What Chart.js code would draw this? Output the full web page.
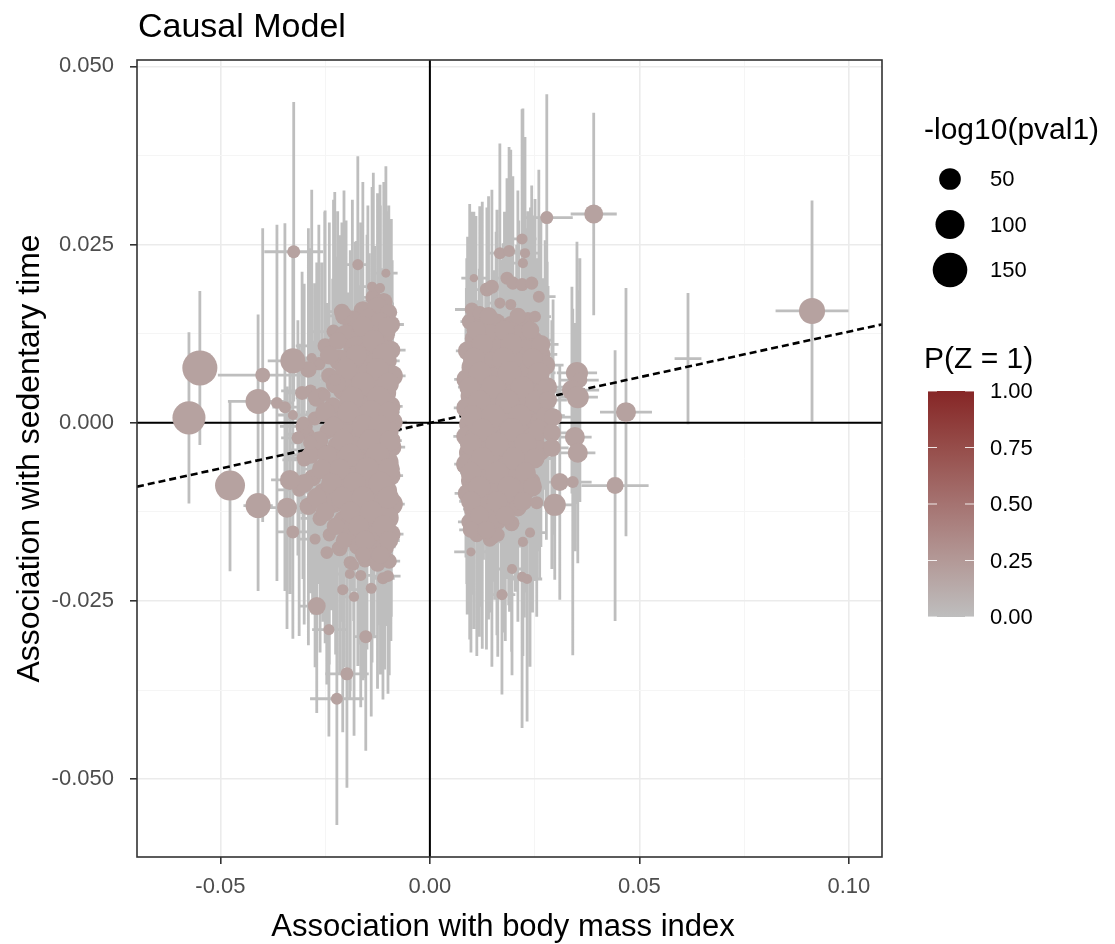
<!DOCTYPE html>
<html><head><meta charset="utf-8">
<script src="https://cdn.jsdelivr.net/npm/chart.js@4.4.1/dist/chart.umd.min.js"></script>
<style>html,body{margin:0;padding:0;background:#fff;}canvas{display:block;}</style>
</head><body>
<canvas id="c" width="1115" height="944"></canvas>
<script>
// ---------- texts & axes ----------
const chartTitle = "Causal Model";
const xAxisTitle = "Association with body mass index";
const yAxisTitle = "Association with sedentary time";
const xRange = [-0.0699, 0.1079];
const yRange = [-0.0609, 0.0509];
const xMajorTicks = [-0.05, 0, 0.05, 0.10];
const xTickLabels = ["-0.05", "0.00", "0.05", "0.10"];
const xMinorTicks = [-0.025, 0.025, 0.075];
const yMajorTicks = [-0.05, -0.025, 0, 0.025, 0.05];
const yTickLabels = ["-0.050", "-0.025", "0.000", "0.025", "0.050"];
const yMinorTicks = [-0.0375, -0.0125, 0.0125, 0.0375];
const causalSlope = 0.128;   // dashed line through origin
const sizeLegendTitle = "-log10(pval1)";
const sizeLegendValues = [50, 100, 150];
const colourLegendTitle = "P(Z = 1)";
const colourLegendValues = [0, 0.25, 0.5, 0.75, 1];
const colourLegendLabels = ["0.00", "0.25", "0.50", "0.75", "1.00"];
const colourStops = ["#BEBEBE", "#B39997", "#A57371", "#964D4A", "#862626"];

// ---------- variants: [bmi beta, sedentary beta, bmi CI half-width, sed CI half-width, -log10(pval1), P(Z=1)] ----------
const leftCluster = [
[-0.0135,0.0176,0.0025,0.0175,22,0.19],[-0.0110,0.0170,0.0020,0.0168,29,0.19],
[-0.0160,0.0158,0.0030,0.0180,32,0.19],[-0.0125,0.0162,0.0022,0.0160,42,0.19],[-0.0098,0.0155,0.0018,0.0150,26,0.19],
[-0.0185,0.0143,0.0035,0.0170,45,0.19],[-0.0148,0.0147,0.0028,0.0158,35,0.19],[-0.0118,0.0140,0.0020,0.0165,48,0.19],[-0.0092,0.0138,0.0030,0.0148,29,0.19],
[-0.0230,0.0128,0.0060,0.0185,16,0.19],[-0.0200,0.0122,0.0032,0.0162,54,0.19],[-0.0165,0.0126,0.0030,0.0155,38,0.19],[-0.0135,0.0120,0.0025,0.0170,61,0.19],[-0.0105,0.0124,0.0022,0.0158,32,0.19],
[-0.0250,0.0108,0.0070,0.0190,20,0.19],[-0.0178,0.0104,0.0030,0.0150,64,0.19],[-0.0150,0.0100,0.0028,0.0164,42,0.19],[-0.0120,0.0106,0.0024,0.0172,51,0.19],[-0.0093,0.0102,0.0035,0.0156,35,0.19],
[-0.0265,0.0083,0.0075,0.0195,14,0.19],[-0.0215,0.0088,0.0036,0.0175,48,0.19],[-0.0190,0.0082,0.0032,0.0160,58,0.19],[-0.0160,0.0086,0.0026,0.0148,45,0.19],[-0.0132,0.0080,0.0024,0.0168,70,0.19],[-0.0102,0.0087,0.0030,0.0152,38,0.19],
[-0.0240,0.0066,0.0060,0.0180,24,0.19],[-0.0175,0.0064,0.0030,0.0158,51,0.19],[-0.0145,0.0068,0.0026,0.0170,64,0.19],[-0.0115,0.0062,0.0022,0.0155,42,0.19],[-0.0090,0.0066,0.0032,0.0162,48,0.19],
[-0.0285,0.0045,0.0070,0.0200,12,0.19],[-0.0258,0.0040,0.0042,0.0185,18,0.19],[-0.0205,0.0047,0.0034,0.0165,54,0.19],[-0.0168,0.0043,0.0028,0.0150,74,0.19],[-0.0138,0.0048,0.0024,0.0160,48,0.19],[-0.0108,0.0042,0.0026,0.0172,58,0.19],
[-0.0232,0.0024,0.0038,0.0178,28,0.19],[-0.0188,0.0027,0.0032,0.0160,64,0.19],[-0.0155,0.0021,0.0026,0.0152,54,0.19],[-0.0125,0.0026,0.0024,0.0166,77,0.19],[-0.0095,0.0023,0.0030,0.0158,45,0.19],
[-0.0275,0.0006,0.0066,0.0190,16,0.19],[-0.0210,0.0002,0.0036,0.0172,48,0.19],[-0.0172,0.0007,0.0030,0.0155,67,0.19],[-0.0142,0.0003,0.0026,0.0164,58,0.19],[-0.0112,0.0008,0.0022,0.0150,70,0.19],[-0.0089,0.0001,0.0034,0.0168,42,0.19],
[-0.0290,-0.0016,0.0050,0.0195,12,0.19],[-0.0245,-0.0012,0.0040,0.0180,22,0.19],[-0.0195,-0.0018,0.0032,0.0162,61,0.19],[-0.0160,-0.0013,0.0028,0.0154,51,0.19],[-0.0128,-0.0017,0.0024,0.0170,74,0.19],[-0.0100,-0.0011,0.0030,0.0158,48,0.19],
[-0.0268,-0.0038,0.0064,0.0188,18,0.19],[-0.0220,-0.0033,0.0036,0.0170,45,0.19],[-0.0180,-0.0036,0.0030,0.0152,70,0.19],[-0.0147,-0.0031,0.0026,0.0166,54,0.19],[-0.0117,-0.0037,0.0024,0.0156,64,0.19],[-0.0091,-0.0034,0.0032,0.0162,38,0.19],
[-0.0300,-0.0052,0.0052,0.0200,14,0.19],[-0.0238,-0.0057,0.0040,0.0176,24,0.19],[-0.0200,-0.0053,0.0034,0.0164,58,0.19],[-0.0165,-0.0058,0.0028,0.0150,64,0.19],[-0.0135,-0.0052,0.0026,0.0168,48,0.19],[-0.0105,-0.0056,0.0022,0.0158,74,0.19],
[-0.0280,-0.0077,0.0068,0.0192,28,0.19],[-0.0215,-0.0073,0.0036,0.0172,48,0.19],[-0.0185,-0.0078,0.0030,0.0156,61,0.19],[-0.0152,-0.0072,0.0028,0.0162,54,0.19],[-0.0122,-0.0076,0.0024,0.0154,67,0.19],[-0.0094,-0.0074,0.0030,0.0166,42,0.19],
[-0.0312,-0.0094,0.0054,0.0205,16,0.19],[-0.0255,-0.0097,0.0042,0.0182,32,0.19],[-0.0198,-0.0092,0.0034,0.0166,45,0.19],[-0.0168,-0.0098,0.0030,0.0158,64,0.19],[-0.0138,-0.0093,0.0026,0.0150,58,0.19],[-0.0108,-0.0096,0.0024,0.0170,70,0.19],
[-0.0290,-0.0117,0.0050,0.0195,30,0.19],[-0.0230,-0.0113,0.0040,0.0178,38,0.19],[-0.0182,-0.0118,0.0032,0.0160,54,0.19],[-0.0150,-0.0112,0.0028,0.0154,67,0.19],[-0.0120,-0.0116,0.0026,0.0168,48,0.19],[-0.0092,-0.0114,0.0032,0.0158,58,0.19],
[-0.0262,-0.0134,0.0046,0.0188,20,0.19],[-0.0205,-0.0137,0.0036,0.0170,45,0.19],[-0.0165,-0.0132,0.0030,0.0156,58,0.19],[-0.0133,-0.0138,0.0026,0.0164,51,0.19],[-0.0103,-0.0133,0.0024,0.0152,64,0.19],
[-0.0240,-0.0157,0.0042,0.0182,14,0.19],[-0.0190,-0.0152,0.0034,0.0166,42,0.19],[-0.0150,-0.0158,0.0028,0.0160,48,0.19],[-0.0118,-0.0154,0.0026,0.0170,54,0.19],[-0.0093,-0.0156,0.0030,0.0150,38,0.19],
[-0.0215,-0.0176,0.0038,0.0175,22,0.19],[-0.0172,-0.0173,0.0032,0.0168,29,0.19],[-0.0138,-0.0178,0.0028,0.0158,42,0.19],[-0.0108,-0.0174,0.0026,0.0172,35,0.19],
[-0.0190,-0.0196,0.0034,0.0180,14,0.19],[-0.0155,-0.0193,0.0030,0.0165,16,0.19],[-0.0125,-0.0198,0.0028,0.0175,22,0.19],[-0.0097,-0.0194,0.0026,0.0160,20,0.19],
[-0.0165,-0.0214,0.0030,0.0185,8,0.19],[-0.0112,-0.0218,0.0028,0.0170,10,0.19],[-0.0140,-0.0232,0.0030,0.0180,8,0.19],
[-0.0274,-0.0163,0.0040,0.0180,8,0.19],[-0.0246,-0.0182,0.0038,0.0185,12,0.19],[-0.0222,-0.0175,0.0036,0.0170,6,0.19],[-0.0181,-0.0200,0.0032,0.0190,6,0.19],
[-0.0191,-0.0212,0.0034,0.0175,6,0.19],[-0.0100,-0.0215,0.0030,0.0165,10,0.19],[-0.0208,-0.0234,0.0036,0.0200,8,0.19],[-0.0181,-0.0244,0.0032,0.0195,6,0.19]
];
const leftClusterInner = [
[-0.0205,0.0150,0.0036,0.0176,30,0.19],[-0.0100,0.0135,0.0022,0.0162,40,0.19],[-0.0160,0.0135,0.0028,0.0170,45,0.19],
[-0.0220,0.0115,0.0040,0.0182,30,0.19],[-0.0135,0.0115,0.0026,0.0158,50,0.19],[-0.0240,0.0095,0.0046,0.0186,35,0.19],
[-0.0110,0.0095,0.0024,0.0166,55,0.19],[-0.0175,0.0095,0.0030,0.0160,45,0.19],[-0.0200,0.0075,0.0034,0.0170,50,0.19],
[-0.0125,0.0075,0.0024,0.0156,55,0.19],[-0.0290,0.0075,0.0056,0.0198,25,0.19],[-0.0225,0.0055,0.0040,0.0178,40,0.19],
[-0.0160,0.0055,0.0028,0.0160,60,0.19],[-0.0100,0.0055,0.0024,0.0168,50,0.19],[-0.0270,0.0035,0.0050,0.0190,30,0.19],
[-0.0185,0.0035,0.0032,0.0164,55,0.19],[-0.0122,0.0035,0.0024,0.0154,60,0.19],[-0.0250,0.0015,0.0046,0.0184,40,0.19],
[-0.0195,0.0015,0.0034,0.0168,50,0.19],[-0.0140,0.0015,0.0026,0.0158,60,0.19],[-0.0098,0.0015,0.0026,0.0162,45,0.19],
[-0.0300,-0.0005,0.0058,0.0200,28,0.19],[-0.0230,-0.0005,0.0042,0.0180,40,0.19],[-0.0158,-0.0005,0.0028,0.0162,60,0.19],
[-0.0120,-0.0005,0.0024,0.0156,55,0.19],[-0.0265,-0.0025,0.0048,0.0188,35,0.19],[-0.0208,-0.0025,0.0036,0.0172,50,0.19],
[-0.0140,-0.0025,0.0026,0.0160,60,0.19],[-0.0095,-0.0025,0.0028,0.0166,45,0.19],[-0.0285,-0.0045,0.0054,0.0194,30,0.19],
[-0.0245,-0.0045,0.0044,0.0182,40,0.19],[-0.0190,-0.0045,0.0032,0.0166,55,0.19],[-0.0125,-0.0045,0.0024,0.0158,60,0.19],
[-0.0258,-0.0065,0.0046,0.0186,40,0.19],[-0.0215,-0.0065,0.0038,0.0174,45,0.19],[-0.0150,-0.0065,0.0028,0.0160,60,0.19],
[-0.0098,-0.0065,0.0026,0.0168,50,0.19],[-0.0300,-0.0085,0.0056,0.0198,35,0.19],[-0.0235,-0.0085,0.0042,0.0178,45,0.19],
[-0.0180,-0.0085,0.0032,0.0164,55,0.19],[-0.0118,-0.0085,0.0024,0.0156,60,0.19],[-0.0270,-0.0105,0.0048,0.0190,40,0.19],
[-0.0210,-0.0105,0.0036,0.0174,50,0.19],[-0.0160,-0.0105,0.0028,0.0162,55,0.19],[-0.0100,-0.0105,0.0026,0.0168,50,0.19],
[-0.0250,-0.0125,0.0044,0.0184,35,0.19],[-0.0190,-0.0125,0.0034,0.0170,45,0.19],[-0.0140,-0.0125,0.0026,0.0160,55,0.19],
[-0.0225,-0.0145,0.0040,0.0180,30,0.19],[-0.0170,-0.0145,0.0030,0.0166,45,0.19],[-0.0110,-0.0145,0.0026,0.0162,50,0.19],
[-0.0205,-0.0165,0.0036,0.0178,25,0.19],[-0.0155,-0.0165,0.0028,0.0170,40,0.19],[-0.0098,-0.0165,0.0026,0.0160,35,0.19],
[-0.0160,-0.0185,0.0030,0.0176,22,0.19],[-0.0118,-0.0185,0.0026,0.0168,30,0.19]
];
const leftOutliers = [
[-0.0575,0.0007,0.0020,0.0120,135,0.19],[-0.0549,0.0077,0.0020,0.0108,154,0.19],[-0.0477,-0.0088,0.0030,0.0120,108,0.19],
[-0.0410,0.0030,0.0072,0.0122,71,0.19],[-0.0410,-0.0116,0.0035,0.0120,71,0.19],[-0.0399,0.0067,0.0107,0.0206,19,0.19],
[-0.0327,0.0087,0.0060,0.0150,71,0.19],[-0.0325,0.0240,0.0070,0.0210,13,0.19],[-0.0365,0.0028,0.0040,0.0250,10,0.19],
[-0.0346,0.0022,0.0030,0.0258,10,0.19],[-0.0327,0.0011,0.0035,0.0160,6,0.19],[-0.0305,0.0042,0.0040,0.0170,16,0.19],
[-0.0282,0.0091,0.0040,0.0236,6,0.19],[-0.0251,0.0039,0.0038,0.0257,10,0.19],[-0.0227,0.0060,0.0036,0.0264,10,0.19],
[-0.0270,-0.0257,0.0040,0.0150,31,0.19],[-0.0241,-0.0290,0.0040,0.0150,8,0.19],[-0.0153,-0.0300,0.0030,0.0160,13,0.19],
[-0.0198,-0.0352,0.0052,0.0160,13,0.19],[-0.0222,-0.0387,0.0064,0.0177,10,0.19],[-0.0327,-0.0153,0.0040,0.0150,13,0.19],
[-0.0172,0.0222,0.0030,0.0152,8,0.19],[-0.0105,0.0210,0.0028,0.0150,4,0.19],[-0.0138,0.0191,0.0028,0.0140,6,0.19],
[-0.0119,0.0189,0.0026,0.0145,6,0.19],[-0.0210,0.0156,0.0035,0.0125,23,0.19],[-0.0334,-0.0080,0.0045,0.0160,41,0.19],
[-0.0341,-0.0119,0.0045,0.0170,41,0.19],[-0.0302,0.0000,0.0060,0.0175,12,0.19],[-0.0315,-0.0021,0.0040,0.0165,12,0.19],
[-0.0286,-0.0028,0.0045,0.0180,16,0.19],[-0.0303,-0.0049,0.0040,0.0170,12,0.19]
];
const rightCluster = [
[0.0095,0.0142,0.0022,0.0165,22,0.19],[0.0125,0.0138,0.0026,0.0172,35,0.19],[0.0160,0.0141,0.0030,0.0158,29,0.19],[0.0195,0.0136,0.0034,0.0176,42,0.19],[0.0225,0.0133,0.0038,0.0160,26,0.19],
[0.0108,0.0118,0.0024,0.0168,45,0.19],[0.0140,0.0123,0.0028,0.0155,54,0.19],[0.0178,0.0119,0.0032,0.0170,38,0.19],[0.0212,0.0122,0.0036,0.0162,48,0.19],[0.0248,0.0116,0.0040,0.0175,32,0.19],
[0.0090,0.0101,0.0028,0.0160,38,0.19],[0.0122,0.0097,0.0024,0.0152,64,0.19],[0.0158,0.0102,0.0030,0.0166,51,0.19],[0.0193,0.0098,0.0034,0.0158,61,0.19],[0.0228,0.0103,0.0038,0.0170,45,0.19],[0.0262,0.0096,0.0042,0.0180,48,0.19],
[0.0103,0.0078,0.0026,0.0155,58,0.19],[0.0137,0.0083,0.0028,0.0164,70,0.19],[0.0172,0.0079,0.0032,0.0150,48,0.19],[0.0207,0.0082,0.0036,0.0168,64,0.19],[0.0242,0.0077,0.0040,0.0160,54,0.19],[0.0275,0.0081,0.0044,0.0175,42,0.19],
[0.0088,0.0061,0.0030,0.0170,45,0.19],[0.0118,0.0058,0.0024,0.0158,74,0.19],[0.0152,0.0062,0.0028,0.0152,58,0.19],[0.0188,0.0057,0.0032,0.0166,67,0.19],[0.0222,0.0063,0.0036,0.0156,51,0.19],[0.0256,0.0059,0.0040,0.0172,61,0.19],
[0.0100,0.0038,0.0026,0.0162,54,0.19],[0.0133,0.0042,0.0028,0.0150,77,0.19],[0.0168,0.0037,0.0030,0.0164,64,0.19],[0.0202,0.0041,0.0034,0.0156,48,0.19],[0.0238,0.0039,0.0038,0.0170,70,0.19],[0.0270,0.0043,0.0042,0.0160,45,0.19],
[0.0087,0.0021,0.0030,0.0168,42,0.19],[0.0115,0.0018,0.0024,0.0154,67,0.19],[0.0148,0.0022,0.0028,0.0160,58,0.19],[0.0183,0.0019,0.0032,0.0152,74,0.19],[0.0218,0.0023,0.0036,0.0166,54,0.19],[0.0250,0.0017,0.0040,0.0158,64,0.19],
[0.0098,-0.0002,0.0026,0.0160,61,0.19],[0.0130,0.0003,0.0028,0.0150,70,0.19],[0.0165,-0.0001,0.0030,0.0168,51,0.19],[0.0198,0.0002,0.0034,0.0156,67,0.19],[0.0233,-0.0003,0.0038,0.0164,58,0.19],[0.0265,0.0001,0.0042,0.0175,48,0.19],
[0.0086,-0.0019,0.0030,0.0170,38,0.19],[0.0112,-0.0022,0.0024,0.0156,64,0.19],[0.0145,-0.0018,0.0028,0.0152,77,0.19],[0.0180,-0.0023,0.0032,0.0164,54,0.19],[0.0215,-0.0017,0.0036,0.0158,64,0.19],[0.0247,-0.0021,0.0040,0.0170,51,0.19],
[0.0097,-0.0042,0.0026,0.0162,58,0.19],[0.0128,-0.0038,0.0028,0.0154,67,0.19],[0.0162,-0.0041,0.0030,0.0166,61,0.19],[0.0196,-0.0037,0.0034,0.0150,48,0.19],[0.0230,-0.0043,0.0038,0.0168,70,0.19],[0.0262,-0.0039,0.0042,0.0178,45,0.19],
[0.0088,-0.0058,0.0030,0.0168,48,0.19],[0.0116,-0.0062,0.0024,0.0152,70,0.19],[0.0150,-0.0059,0.0028,0.0164,58,0.19],[0.0185,-0.0063,0.0032,0.0156,64,0.19],[0.0220,-0.0057,0.0036,0.0170,48,0.19],
[0.0101,-0.0081,0.0026,0.0160,54,0.19],[0.0135,-0.0078,0.0028,0.0154,64,0.19],[0.0170,-0.0082,0.0030,0.0166,51,0.19],[0.0204,-0.0079,0.0034,0.0158,61,0.19],[0.0240,-0.0083,0.0040,0.0172,42,0.19],
[0.0089,-0.0099,0.0030,0.0170,35,0.19],[0.0120,-0.0102,0.0024,0.0156,58,0.19],[0.0155,-0.0098,0.0028,0.0150,48,0.19],[0.0190,-0.0101,0.0032,0.0164,54,0.19],[0.0225,-0.0097,0.0036,0.0176,38,0.19],
[0.0105,-0.0121,0.0026,0.0168,42,0.19],[0.0140,-0.0118,0.0028,0.0158,51,0.19],[0.0175,-0.0122,0.0030,0.0172,35,0.19],[0.0210,-0.0119,0.0034,0.0160,29,0.19],
[0.0095,-0.0139,0.0028,0.0165,26,0.19],[0.0125,-0.0142,0.0026,0.0175,38,0.19],[0.0160,-0.0138,0.0030,0.0160,32,0.19],[0.0195,-0.0141,0.0034,0.0180,22,0.19],
[0.0112,-0.0157,0.0028,0.0170,19,0.19],[0.0148,-0.0160,0.0030,0.0182,22,0.19],
[0.0220,0.0258,0.0035,0.0182,8,0.19],[0.0167,0.0238,0.0030,0.0154,10,0.19],[0.0189,0.0241,0.0032,0.0146,10,0.19],[0.0227,0.0238,0.0034,0.0163,6,0.19],
[0.0222,0.0224,0.0034,0.0217,6,0.19],[0.0105,0.0203,0.0030,0.0093,3,0.19],[0.0136,0.0187,0.0028,0.0115,16,0.19],[0.0148,0.0191,0.0028,0.0136,16,0.19],
[0.0184,0.0203,0.0030,0.0140,13,0.19],[0.0198,0.0196,0.0032,0.0150,13,0.19],[0.0220,0.0194,0.0034,0.0145,13,0.19],[0.0243,0.0196,0.0036,0.0137,13,0.19],
[0.0260,0.0177,0.0040,0.0178,10,0.19],[0.0167,0.0168,0.0030,0.0160,8,0.19],[0.0193,0.0166,0.0032,0.0217,8,0.19],[0.0234,0.0147,0.0036,0.0150,10,0.19],
[0.0251,0.0149,0.0038,0.0165,10,0.19],[0.0100,0.0159,0.0040,0.0137,16,0.19],[0.0119,0.0154,0.0030,0.0150,16,0.19],
[0.0098,-0.0181,0.0040,0.0095,4,0.19],[0.0172,-0.0241,0.0032,0.0140,8,0.19],[0.0196,-0.0205,0.0034,0.0149,6,0.19],[0.0220,-0.0216,0.0036,0.0212,6,0.19],
[0.0232,-0.0219,0.0036,0.0200,6,0.19],[0.0222,-0.0167,0.0034,0.0160,6,0.19],[0.0239,-0.0154,0.0036,0.0188,6,0.19],[0.0143,-0.0164,0.0030,0.0102,16,0.19],
[0.0162,-0.0157,0.0030,0.0171,16,0.19]
];
const rightClusterInner = [
[0.0140,0.0150,0.0028,0.0168,30,0.19],[0.0210,0.0150,0.0034,0.0176,25,0.19],
[0.0110,0.0130,0.0026,0.0160,35,0.19],[0.0178,0.0130,0.0032,0.0166,40,0.19],[0.0240,0.0130,0.0038,0.0172,30,0.19],
[0.0125,0.0110,0.0026,0.0158,45,0.19],[0.0195,0.0110,0.0034,0.0164,50,0.19],[0.0265,0.0110,0.0042,0.0178,35,0.19],
[0.0105,0.0090,0.0024,0.0156,50,0.19],[0.0175,0.0090,0.0032,0.0162,55,0.19],[0.0245,0.0090,0.0040,0.0170,45,0.19],
[0.0120,0.0070,0.0026,0.0154,55,0.19],[0.0190,0.0070,0.0034,0.0160,60,0.19],[0.0260,0.0070,0.0040,0.0168,50,0.19],
[0.0095,0.0050,0.0028,0.0164,45,0.19],[0.0150,0.0050,0.0028,0.0152,60,0.19],[0.0220,0.0050,0.0036,0.0160,55,0.19],[0.0280,0.0050,0.0044,0.0176,40,0.19],
[0.0118,0.0030,0.0026,0.0156,55,0.19],[0.0185,0.0030,0.0032,0.0154,60,0.19],[0.0255,0.0030,0.0040,0.0166,50,0.19],
[0.0100,0.0010,0.0026,0.0160,50,0.19],[0.0150,0.0010,0.0028,0.0152,60,0.19],[0.0215,0.0010,0.0036,0.0158,55,0.19],[0.0278,0.0010,0.0044,0.0174,40,0.19],
[0.0125,-0.0010,0.0026,0.0154,55,0.19],[0.0195,-0.0010,0.0034,0.0160,60,0.19],[0.0260,-0.0010,0.0040,0.0170,45,0.19],
[0.0098,-0.0030,0.0026,0.0162,50,0.19],[0.0160,-0.0030,0.0030,0.0154,60,0.19],[0.0228,-0.0030,0.0038,0.0164,55,0.19],
[0.0125,-0.0050,0.0026,0.0158,55,0.19],[0.0200,-0.0050,0.0034,0.0162,55,0.19],[0.0250,-0.0050,0.0040,0.0172,40,0.19],
[0.0098,-0.0070,0.0026,0.0164,45,0.19],[0.0160,-0.0070,0.0030,0.0156,55,0.19],[0.0228,-0.0070,0.0038,0.0168,45,0.19],
[0.0118,-0.0090,0.0026,0.0160,50,0.19],[0.0188,-0.0090,0.0032,0.0166,50,0.19],[0.0245,-0.0090,0.0040,0.0176,35,0.19],
[0.0098,-0.0110,0.0028,0.0168,40,0.19],[0.0160,-0.0110,0.0030,0.0162,45,0.19],[0.0222,-0.0110,0.0036,0.0174,35,0.19],
[0.0118,-0.0130,0.0026,0.0170,35,0.19],[0.0180,-0.0130,0.0032,0.0176,35,0.19],
[0.0098,-0.0150,0.0028,0.0172,25,0.19],[0.0135,-0.0150,0.0028,0.0168,30,0.19]
];
const rightOutliers = [
[0.0391,0.0293,0.0055,0.0142,36,0.19],[0.0279,0.0288,0.0062,0.0173,13,0.19],[0.0912,0.0157,0.0087,0.0155,78,0.19],
[0.0616,0.0090,0.0032,0.0092,0,0.19],[0.0468,0.0015,0.0062,0.0174,41,0.19],[0.0442,-0.0088,0.0080,0.0190,27,0.19],
[0.0351,0.0070,0.0048,0.0184,52,0.19],[0.0358,0.0060,0.0045,0.0171,19,0.19],[0.0339,0.0046,0.0065,0.0145,41,0.19],
[0.0353,0.0036,0.0048,0.0150,52,0.19],[0.0346,-0.0020,0.0040,0.0160,41,0.19],[0.0353,-0.0042,0.0042,0.0155,41,0.19],
[0.0310,-0.0083,0.0050,0.0165,31,0.19],[0.0341,-0.0083,0.0045,0.0243,10,0.19],[0.0298,-0.0115,0.0048,0.0105,52,0.19],
[0.0282,0.0032,0.0045,0.0160,31,0.19],[0.0294,0.0008,0.0045,0.0165,31,0.19],[0.0291,-0.0014,0.0042,0.0158,31,0.19],
[0.0291,-0.0035,0.0040,0.0170,31,0.19],[0.0255,-0.0112,0.0040,0.0160,13,0.19]
];
const allVariants = [...leftCluster, ...leftClusterInner, ...rightCluster, ...rightClusterInner, ...leftOutliers, ...rightOutliers];

// ---------- helpers ----------
const FONT = "'Liberation Sans', Arial, sans-serif";
function pointRadius(v) { return v > 0 ? (4 + 2.5 * Math.sqrt(v)) / 2 : 0; }
function hexToRgb(h) { const n = parseInt(h.slice(1), 16); return [(n >> 16) & 255, (n >> 8) & 255, n & 255]; }
function colourFor(p) {
  const n = colourStops.length - 1;
  const t = Math.max(0, Math.min(1, p)) * n;
  const i = Math.min(n - 1, Math.floor(t)), f = t - i;
  const a = hexToRgb(colourStops[i]), b = hexToRgb(colourStops[i + 1]);
  return `rgb(${a.map((c, k) => Math.round(c + (b[k] - c) * f)).join(',')})`;
}
const near = (a, b) => Math.abs(a - b) < 1e-9;
function labelFor(v, vals, labels) { const i = vals.findIndex(t => near(t, v)); return i >= 0 ? labels[i] : ''; }
function isMajor(v, vals) { return vals.some(t => near(t, v)); }

// ---------- plugins ----------
const underlayPlugin = {
  id: 'underlay',
  beforeDatasetsDraw(chart) {
    const { ctx, chartArea: a, scales: { x, y } } = chart;
    ctx.save();
    ctx.beginPath(); ctx.rect(a.left, a.top, a.right - a.left, a.bottom - a.top); ctx.clip();
    ctx.strokeStyle = '#BEBEBE'; ctx.lineWidth = 2.8; ctx.lineCap = 'butt';
    ctx.beginPath();
    for (const p of allVariants) {
      const px = x.getPixelForValue(p[0]), py = y.getPixelForValue(p[1]);
      ctx.moveTo(px, y.getPixelForValue(p[1] + p[3])); ctx.lineTo(px, y.getPixelForValue(p[1] - p[3]));
      ctx.moveTo(x.getPixelForValue(p[0] - p[2]), py); ctx.lineTo(x.getPixelForValue(p[0] + p[2]), py);
    }
    ctx.stroke();
    const zx = x.getPixelForValue(0), zy = y.getPixelForValue(0);
    ctx.strokeStyle = '#000'; ctx.lineWidth = 2;
    ctx.beginPath();
    ctx.moveTo(a.left, zy); ctx.lineTo(a.right, zy);
    ctx.moveTo(zx, a.top); ctx.lineTo(zx, a.bottom);
    ctx.stroke();
    ctx.restore();
  }
};
const overlayPlugin = {
  id: 'overlay',
  afterDraw(chart) {
    const { ctx, chartArea: a } = chart;
    ctx.save();
    ctx.strokeStyle = '#333333'; ctx.lineWidth = 1.6;
    ctx.strokeRect(a.left, a.top, a.right - a.left, a.bottom - a.top);
    ctx.fillStyle = '#000';
    ctx.font = `34px ${FONT}`; ctx.textAlign = 'left'; ctx.textBaseline = 'middle';
    ctx.fillText(chartTitle, a.left + 1, 28);
    ctx.font = `31px ${FONT}`; ctx.textAlign = 'center';
    ctx.fillText(xAxisTitle, 503, 927);
    ctx.save();
    ctx.translate(30, (a.top + a.bottom) / 2); ctx.rotate(-Math.PI / 2);
    ctx.font = `32px ${FONT}`;
    ctx.fillText(yAxisTitle, 0, 0);
    ctx.restore();
    const lx = a.right + 46;
    ctx.textAlign = 'left'; ctx.font = `30px ${FONT}`;
    ctx.fillText(sizeLegendTitle, lx - 4, 131);
    ctx.font = `22px ${FONT}`;
    sizeLegendValues.forEach((v, i) => {
      const cy = 179 + i * 45.5;
      ctx.beginPath(); ctx.arc(lx + 22, cy, pointRadius(v), 0, Math.PI * 2); ctx.fillStyle = '#000'; ctx.fill();
      ctx.fillText(String(v), lx + 62, cy + 1);
    });
    ctx.font = `30px ${FONT}`;
    ctx.fillText(colourLegendTitle, lx - 4, 360);
    const bx = lx, bw = 46, btop = 391, bh = 226;
    const g = ctx.createLinearGradient(0, btop + bh, 0, btop);
    colourStops.forEach((c, i) => g.addColorStop(i / (colourStops.length - 1), c));
    ctx.fillStyle = g; ctx.fillRect(bx, btop, bw, bh);
    ctx.strokeStyle = 'rgba(255,255,255,0.85)'; ctx.lineWidth = 1.2;
    ctx.font = `22px ${FONT}`; ctx.fillStyle = '#000';
    colourLegendValues.forEach((v, i) => {
      const ty = btop + (1 - v) * bh;
      ctx.beginPath();
      ctx.moveTo(bx, ty); ctx.lineTo(bx + 9, ty);
      ctx.moveTo(bx + bw - 9, ty); ctx.lineTo(bx + bw, ty);
      ctx.stroke();
      ctx.fillText(colourLegendLabels[i], lx + 62, ty + 1);
    });
    ctx.restore();
  }
};

// ---------- chart ----------
Chart.defaults.font.family = FONT;
const tickFont = { size: 22, family: FONT };
new Chart(document.getElementById('c'), {
  type: 'scatter',
  data: {
    datasets: [
      {
        label: 'variants',
        data: allVariants.map(p => ({ x: p[0], y: p[1] })),
        pointRadius: allVariants.map(p => pointRadius(p[4])),
        pointHoverRadius: allVariants.map(p => pointRadius(p[4])),
        pointBackgroundColor: allVariants.map(p => colourFor(p[5])),
        pointBorderWidth: 0,
        order: 0
      },
      {
        label: 'causal',
        data: [{ x: xRange[0], y: causalSlope * xRange[0] }, { x: xRange[1], y: causalSlope * xRange[1] }],
        showLine: true, borderColor: '#000', borderWidth: 2.6, borderDash: [7, 4],
        pointRadius: 0, order: 1
      }
    ]
  },
  options: {
    responsive: false, animation: false, devicePixelRatio: 1, events: [],
    layout: { padding: { left: 0, right: 233, top: 60, bottom: 0 } },
    plugins: { legend: { display: false }, title: { display: false }, tooltip: { enabled: false } },
    scales: {
      x: {
        type: 'linear', min: xRange[0], max: xRange[1],
        afterFit: s => { s.height = 87; },
        afterBuildTicks: s => { s.ticks = [...xMajorTicks, ...xMinorTicks].sort((a, b) => a - b).map(v => ({ value: v })); },
        ticks: { autoSkip: false, maxRotation: 0, padding: 10, color: '#4D4D4D', font: tickFont,
                 callback: v => labelFor(v, xMajorTicks, xTickLabels) },
        grid: { color: c => isMajor(c.tick.value, xMajorTicks) ? '#EBEBEB' : '#F5F5F5',
                lineWidth: c => isMajor(c.tick.value, xMajorTicks) ? 1.6 : 1,
                tickColor: c => isMajor(c.tick.value, xMajorTicks) ? '#333333' : 'rgba(0,0,0,0)',
                tickLength: 7, tickWidth: 1.6 },
        border: { display: false }
      },
      y: {
        type: 'linear', min: yRange[0], max: yRange[1],
        afterFit: s => { s.width = 137; },
        afterBuildTicks: s => { s.ticks = [...yMajorTicks, ...yMinorTicks].sort((a, b) => a - b).map(v => ({ value: v })); },
        ticks: { autoSkip: false, padding: 16, color: '#4D4D4D', font: tickFont,
                 callback: v => labelFor(v, yMajorTicks, yTickLabels) },
        grid: { color: c => isMajor(c.tick.value, yMajorTicks) ? '#EBEBEB' : '#F5F5F5',
                lineWidth: c => isMajor(c.tick.value, yMajorTicks) ? 1.6 : 1,
                tickColor: c => isMajor(c.tick.value, yMajorTicks) ? '#333333' : 'rgba(0,0,0,0)',
                tickLength: 7, tickWidth: 1.6 },
        border: { display: false }
      }
    }
  },
  plugins: [underlayPlugin, overlayPlugin]
});
</script>
</body></html>
